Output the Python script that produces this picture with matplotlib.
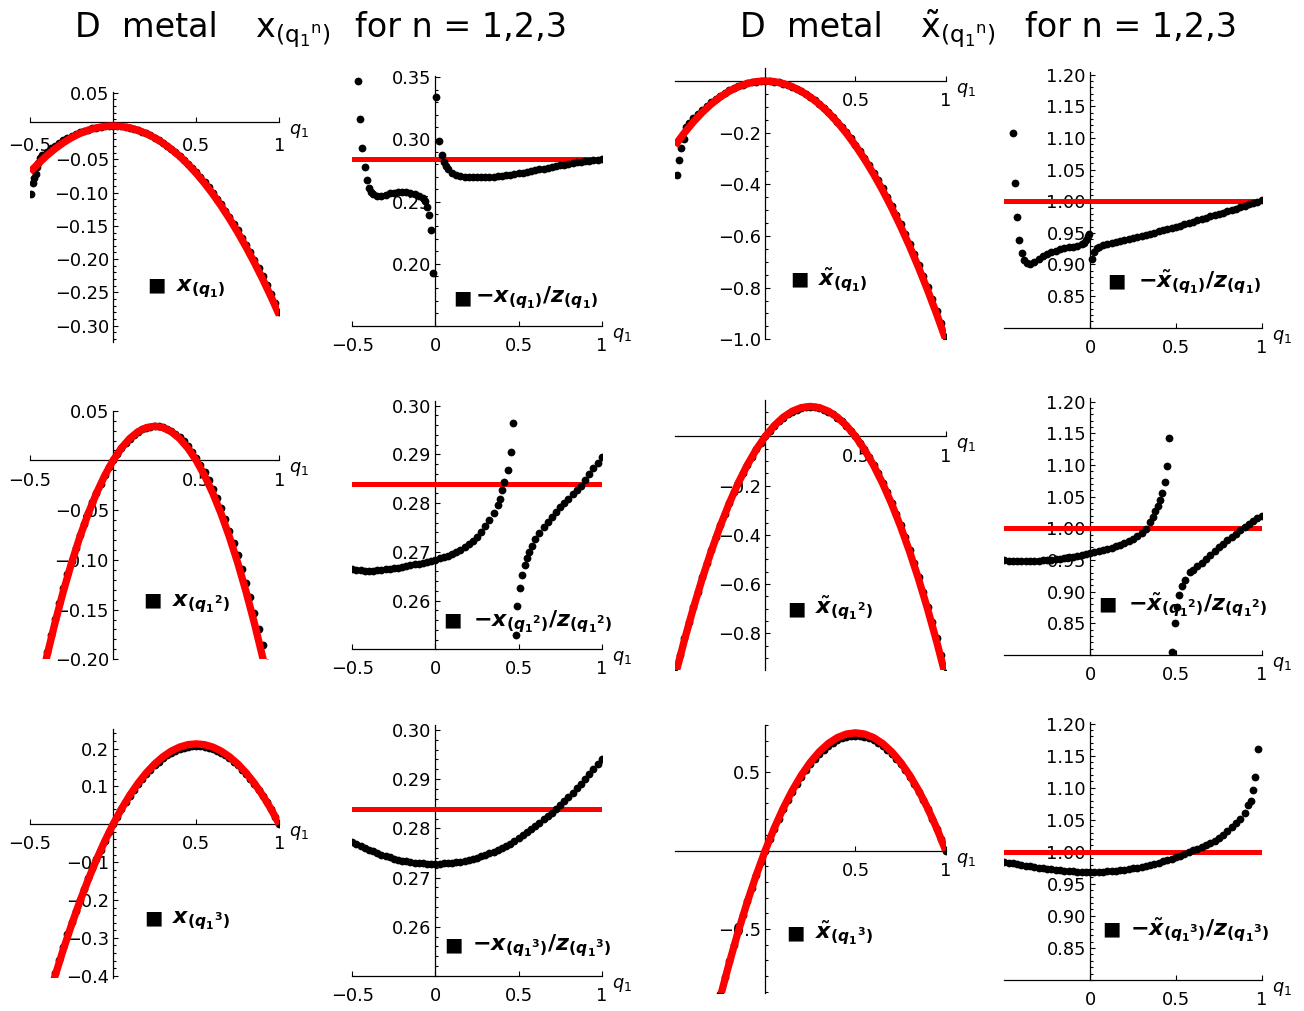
import matplotlib
matplotlib.use('Agg')
import matplotlib.pyplot as plt
from matplotlib.ticker import MultipleLocator
import numpy as np

plt.rcParams['font.family'] = ['DejaVu Sans']
plt.rcParams['mathtext.fontset'] = 'custom'
plt.rcParams['mathtext.rm'] = 'DejaVu Sans'
plt.rcParams['mathtext.it'] = 'DejaVu Sans:italic'
plt.rcParams['mathtext.bf'] = 'DejaVu Sans:bold'
plt.rcParams['mathtext.bfit'] = 'DejaVu Sans:italic:bold'

# ---------------- data ----------------
Q25 = [-0.5, -0.475, -0.45, -0.425, -0.4, -0.375, -0.35, -0.325, -0.3, -0.275,
       -0.25, -0.225, -0.2, -0.175, -0.15, -0.125, -0.1, -0.075, -0.05, -0.025,
       0.0, 0.025, 0.05, 0.075, 0.1, 0.125, 0.15, 0.175, 0.2, 0.225,
       0.25, 0.275, 0.3, 0.325, 0.35, 0.375, 0.4, 0.425, 0.45, 0.475,
       0.5, 0.525, 0.55, 0.575, 0.6, 0.625, 0.65, 0.675, 0.7, 0.725,
       0.75, 0.775, 0.8, 0.825, 0.85, 0.875, 0.9, 0.925, 0.95, 0.975, 1.0]
Q05 = [-0.5, -0.45, -0.4, -0.35, -0.3, -0.25, -0.2, -0.15, -0.1, -0.05,
       0.0, 0.05, 0.1, 0.15, 0.2, 0.25, 0.3, 0.35, 0.4, 0.45,
       0.5, 0.55, 0.6, 0.65, 0.7, 0.75, 0.8, 0.85, 0.9, 0.95, 1.0]

# row 1, x(q1)
x1_q = [-0.492, -0.482, -0.474, -0.466, -0.458, -0.45, -0.44] + Q25[3:]
x1_y = [-0.102, -0.085, -0.078, -0.072, -0.062, -0.055, -0.048,
        -0.0435, -0.0385, -0.0338, -0.0294, -0.0253, -0.0216, -0.0181, -0.015, -0.0121,
        -0.0096, -0.0073, -0.0054, -0.0037, -0.0024, -0.0013, -0.0006, -0.0001,
        0.0,
        -0.0002, -0.0007, -0.0016, -0.0028, -0.0044, -0.0063, -0.0085, -0.0112, -0.0141, -0.0174,
        -0.0211, -0.0251, -0.0295, -0.0342, -0.0392, -0.0446, -0.0504, -0.0565, -0.0629, -0.0698,
        -0.0769, -0.0844, -0.0922, -0.1004, -0.109, -0.1179, -0.1271, -0.1367, -0.1466, -0.1569,
        -0.1676, -0.1786, -0.1899, -0.2016, -0.2136, -0.226, -0.2387, -0.2518, -0.2652, -0.279]
x1_red = [-0.069, -0.0565, -0.0447, -0.0343, -0.0252, -0.0175, -0.0112, -0.0063, -0.0028, -0.0007,
          0.0, -0.0007, -0.0028, -0.0064, -0.0114, -0.0178, -0.0256, -0.0348, -0.0454, -0.0575,
          -0.071, -0.0859, -0.1022, -0.12, -0.1392, -0.1598, -0.1818, -0.2052, -0.23, -0.2563, -0.284]

# row 1, -x(q1)/z(q1)
r1_q = [-0.466, -0.452, -0.440, -0.426, -0.412, -0.400,
        -0.39, -0.375, -0.35, -0.325, -0.3, -0.275, -0.25, -0.225, -0.2, -0.175, -0.15, -0.125,
        -0.1, -0.075, -0.062, -0.05, -0.038, -0.026, -0.012,
        0.006, 0.022, 0.038, 0.05, 0.062] + Q25[23:]
r1_y = [0.3473, 0.3161, 0.2933, 0.2776, 0.2674, 0.2607,
        0.2580, 0.2558, 0.2545, 0.2548, 0.2556, 0.2565, 0.2572, 0.2576, 0.2576, 0.2573, 0.2567, 0.2558,
        0.2545, 0.2527, 0.2505, 0.2459, 0.2391, 0.2271, 0.1922,
        0.3339, 0.2987, 0.2874, 0.2820, 0.2785,
        0.2758, 0.2730, 0.2715, 0.2706, 0.2700, 0.2697, 0.2695, 0.2694, 0.2694, 0.2695,
        0.2697, 0.2700, 0.2703, 0.2707, 0.2711, 0.2716, 0.2721, 0.2727, 0.2733, 0.2739,
        0.2745, 0.2751, 0.2758, 0.2764, 0.2771, 0.2777, 0.2784, 0.2790, 0.2797, 0.2803,
        0.2809, 0.2815, 0.2820, 0.2825, 0.2830, 0.2834, 0.2837, 0.2840]
RATIO_X_LEVEL = 0.284

# row 1, x~(q1)
t1_q = [-0.491, -0.480, -0.467, -0.451, -0.438] + Q25[3:]
t1_y = [-0.365, -0.306, -0.260, -0.223, -0.180,
        -0.164, -0.145, -0.127, -0.111, -0.0955, -0.0815, -0.0685, -0.057, -0.046, -0.0365,
        -0.028, -0.0207, -0.0145, -0.0094, -0.0054, -0.0024, -0.0006,
        0.0,
        -0.0006, -0.0025, -0.0055, -0.0099, -0.0154, -0.0222, -0.0302, -0.0394, -0.0499, -0.0616,
        -0.0745, -0.0887, -0.104, -0.1207, -0.1385, -0.1576, -0.1779, -0.1995, -0.2222, -0.2463,
        -0.2715, -0.298, -0.3257, -0.3546, -0.3848, -0.4162, -0.4488, -0.4827, -0.5177, -0.5541,
        -0.5916, -0.6304, -0.6704, -0.7117, -0.7541, -0.7979, -0.8428, -0.889, -0.9364, -0.992]
t1_red = [-0.25, -0.2025, -0.16, -0.1225, -0.09, -0.0625, -0.04, -0.0225, -0.01, -0.0025,
          0.0, -0.0025, -0.01, -0.0225, -0.04, -0.0625, -0.09, -0.1225, -0.16, -0.2025,
          -0.25, -0.3025, -0.36, -0.4225, -0.49, -0.5625, -0.64, -0.7225, -0.81, -0.9025, -1.0]

# row 1, -x~(q1)/z(q1)
s1_q = [-0.452, -0.437, -0.425, -0.412, -0.398, -0.384,
        -0.37, -0.35, -0.325, -0.3, -0.275, -0.25, -0.225, -0.2, -0.175, -0.15, -0.125, -0.1,
        -0.075, -0.05, -0.035, -0.023, -0.012, -0.004,
        0.012, 0.023, 0.039] + Q25[22:]
s1_y = [1.1086, 1.029, 0.9754, 0.9395, 0.9185, 0.907,
        0.902, 0.9015, 0.9045, 0.909, 0.913, 0.9168, 0.9195, 0.9218, 0.9238, 0.9255, 0.927, 0.9284,
        0.9298, 0.9318, 0.9345, 0.9386, 0.9445, 0.949,
        0.9085, 0.920, 0.9254,
        0.928, 0.9305, 0.9328, 0.9343, 0.9357, 0.937, 0.9385, 0.9401, 0.9421, 0.944,
        0.9458, 0.9474, 0.949, 0.9505, 0.9522, 0.9539, 0.9557, 0.9576, 0.9595, 0.9615,
        0.9635, 0.9655, 0.9676, 0.9697, 0.9718, 0.9739, 0.976, 0.978, 0.9801, 0.9822,
        0.9843, 0.9864, 0.9884, 0.9905, 0.9927, 0.995, 0.9972, 0.9995, 1.0017]
RATIO_T_LEVEL = 1.0

# row 2, x(q1^2)
x2_q = Q25[2:59]
x2_y = [-0.229, -0.2106, -0.1929, -0.1759, -0.1595, -0.1438, -0.1288, -0.1144, -0.1007, -0.0877,
        -0.0753, -0.0635, -0.0525, -0.0421, -0.0323, -0.0233, -0.0148, -0.0071,
        0.0,
        0.0064, 0.0122, 0.0173, 0.0217, 0.0255, 0.0286, 0.0311, 0.0329, 0.034, 0.0345,
        0.0343, 0.0334, 0.0319, 0.0297, 0.0268, 0.0233, 0.0191, 0.0143, 0.0088, 0.0027,
        -0.0042, -0.0117, -0.0198, -0.0286, -0.0381, -0.0482, -0.059, -0.0705, -0.0826, -0.0954,
        -0.1089, -0.123, -0.1377, -0.1532, -0.1693, -0.186, -0.2035, -0.2215]
x2_red_q = Q05[1:30]
x2_red = [-0.2351, -0.198, -0.1636, -0.132, -0.1031, -0.077, -0.0536, -0.033, -0.0151,
          0.0, 0.0124, 0.022, 0.0289, 0.033, 0.0344, 0.033, 0.0289, 0.022, 0.0124,
          0.0, -0.0151, -0.033, -0.0536, -0.077, -0.1031, -0.132, -0.1636, -0.198, -0.2351]

# row 2, -x(q1^2)/z(q1^2)
r2_q = Q25[0:36] + [0.3876, 0.4016, 0.4137, 0.4337, 0.4518, 0.4639,
                    0.482, 0.492, 0.508, 0.522, 0.538, 0.548, 0.564, 0.578] + Q25[44:]
r2_y = [0.2664, 0.2663, 0.2662, 0.2661, 0.2661, 0.2661, 0.2662, 0.2663, 0.2664, 0.2665,
        0.2666, 0.2667, 0.2669, 0.267, 0.2672, 0.2674, 0.2676, 0.2678, 0.268, 0.2682,
        0.2684, 0.2687, 0.2689, 0.2692, 0.2695, 0.2699, 0.2704, 0.2709, 0.2715, 0.2723,
        0.2731, 0.2741, 0.2752, 0.2765, 0.278, 0.2797,
        0.2809, 0.2826, 0.2844, 0.2868, 0.2904, 0.2964,
        0.2529, 0.2589, 0.2626, 0.2652, 0.2673, 0.2688, 0.27, 0.2711,
        0.2726, 0.2739, 0.275, 0.2761, 0.2771, 0.2781, 0.2791, 0.28, 0.2809, 0.2818,
        0.2827, 0.2836, 0.2848, 0.286, 0.2872, 0.2883, 0.2894]

# row 2, x~(q1^2)
t2_q = Q25
t2_y = [-0.9602, -0.8894, -0.821, -0.755, -0.6914, -0.6302, -0.5714, -0.515, -0.461, -0.4094,
        -0.3602, -0.3134, -0.269, -0.227, -0.1874, -0.1502, -0.1154, -0.083, -0.053, -0.0254,
        -0.0002,
        0.0226, 0.043, 0.061, 0.0766, 0.0898, 0.1006, 0.109, 0.115, 0.1186, 0.1198,
        0.1186, 0.115, 0.109, 0.1006, 0.0898, 0.0766, 0.061, 0.043, 0.0226, -0.0002,
        -0.0254, -0.053, -0.083, -0.1154, -0.1502, -0.1874, -0.227, -0.269, -0.3134, -0.3602,
        -0.4094, -0.461, -0.515, -0.5714, -0.6302, -0.6914, -0.755, -0.821, -0.8894, -0.9602]
t2_red = [-0.975, -0.8336, -0.702, -0.5801, -0.468, -0.3656, -0.273, -0.1901, -0.117, -0.0536,
          0.0, 0.0439, 0.078, 0.1024, 0.117, 0.1219, 0.117, 0.1024, 0.078, 0.0439,
          0.0, -0.0536, -0.117, -0.1901, -0.273, -0.3656, -0.468, -0.5801, -0.702, -0.8336, -0.975]

# row 2, -x~(q1^2)/z(q1^2)
s2_q = Q25[0:34] + [0.35, 0.365, 0.38, 0.395, 0.408, 0.42, 0.435, 0.448, 0.46,
                    0.476, 0.495, 0.505, 0.518, 0.534, 0.553, 0.583] + Q25[44:]
s2_y = [0.9495, 0.9491, 0.9488, 0.9486, 0.9485, 0.9485, 0.9486, 0.9488, 0.9491, 0.9495,
        0.95, 0.9507, 0.9515, 0.9524, 0.9534, 0.9544, 0.9555, 0.9567, 0.9581, 0.9596,
        0.9611, 0.9626, 0.9642, 0.9659, 0.9677, 0.9697, 0.9718, 0.9742, 0.9768, 0.9798,
        0.9833, 0.9876, 0.993, 0.9993,
        1.0095, 1.018, 1.027, 1.036, 1.045, 1.056, 1.073, 1.098, 1.142,
        0.8053, 0.8502, 0.8766, 0.8951, 0.9083, 0.9189, 0.931,
        0.935, 0.94, 0.9455, 0.9515, 0.9575, 0.9638, 0.97, 0.9757, 0.9812, 0.9866,
        0.9919, 0.9969, 1.0016, 1.0064, 1.0111, 1.0157, 1.0203]

# row 3, x(q1^3)
x3_q = Q25[2:]
x3_y = [-0.5416, -0.5027, -0.4648, -0.428, -0.3922, -0.3574, -0.3237, -0.291, -0.2594, -0.2288,
        -0.1992, -0.1707, -0.1432, -0.1167, -0.0913, -0.0669, -0.0436, -0.0213,
        0.0,
        0.0202, 0.0394, 0.0576, 0.0747, 0.0908, 0.1058, 0.1198, 0.1328, 0.1447, 0.1556,
        0.1655, 0.1743, 0.1821, 0.1888, 0.1945, 0.1992, 0.2028, 0.2054, 0.207, 0.2075,
        0.207, 0.2054, 0.2028, 0.1992, 0.1945, 0.1888, 0.1821, 0.1743, 0.1655, 0.1556,
        0.1447, 0.1328, 0.1198, 0.1058, 0.0908, 0.0747, 0.0576, 0.0394, 0.0202, 0.0]
x3_red_q = Q05[1:]
x3_red = [-0.5546, -0.476, -0.4016, -0.3315, -0.2656, -0.204, -0.1466, -0.0935, -0.0446,
          0.0, 0.0404, 0.0765, 0.1084, 0.136, 0.1594, 0.1785, 0.1934, 0.204, 0.2104, 0.2125,
          0.2104, 0.204, 0.1934, 0.1785, 0.1594, 0.136, 0.1084, 0.0765, 0.0404, 0.0]

# row 3, -x(q1^3)/z(q1^3)
r3_q = Q25
r3_y = [0.2772, 0.2768, 0.2764, 0.276, 0.2756, 0.2753, 0.2749, 0.2746, 0.2743, 0.2741,
        0.2738, 0.2736, 0.2734, 0.2733, 0.2731, 0.273, 0.2729, 0.2729, 0.2728, 0.2728,
        0.2728,
        0.2728, 0.2729, 0.2729, 0.273, 0.2731, 0.2732, 0.2734, 0.2736, 0.2738, 0.274,
        0.2743, 0.2745, 0.2749, 0.2752, 0.2756, 0.276, 0.2765, 0.2769, 0.2775, 0.278,
        0.2786, 0.2792, 0.2798, 0.2804, 0.2811, 0.2818, 0.2825, 0.2832, 0.2839, 0.2847,
        0.2855, 0.2864, 0.2872, 0.2881, 0.289, 0.29, 0.291, 0.292, 0.293, 0.294]

# row 3, x~(q1^3)
t3_q = Q25[8:]
t3_y = [-1.1427, -1.0273, -0.9156, -0.8075, -0.7032, -0.6024, -0.5054, -0.412, -0.3223, -0.2362,
        -0.1538, -0.075,
        0.0,
        0.0715, 0.1392, 0.2033, 0.2637, 0.3205, 0.3736, 0.4231, 0.4688, 0.511, 0.5494,
        0.5842, 0.6153, 0.6428, 0.6666, 0.6868, 0.7032, 0.7161, 0.7252, 0.7307, 0.7325,
        0.7307, 0.7252, 0.7161, 0.7032, 0.6868, 0.6666, 0.6428, 0.6153, 0.5842, 0.5494,
        0.511, 0.4688, 0.4231, 0.3736, 0.3205, 0.2637, 0.2033, 0.1392, 0.0715, 0.0]
t3_red_q = Q05[4:]
t3_red = [-1.17, -0.9375, -0.72, -0.5175, -0.33, -0.1575,
          0.0, 0.1425, 0.27, 0.3825, 0.48, 0.5625, 0.63, 0.6825, 0.72, 0.7425, 0.75,
          0.7425, 0.72, 0.6825, 0.63, 0.5625, 0.48, 0.3825, 0.27, 0.1425, 0.0]

# row 3, -x~(q1^3)/z(q1^3)
s3_q = Q25[0:57] + [0.92, 0.935, 0.95, 0.962, 0.977]
s3_y = [0.9843, 0.983, 0.9818, 0.9806, 0.9794, 0.9783, 0.9772, 0.9762, 0.9752, 0.9743,
        0.9734, 0.9726, 0.9718, 0.9711, 0.9705, 0.9699, 0.9694, 0.969, 0.9688, 0.9687,
        0.9686,
        0.9687, 0.9688, 0.9691, 0.9695, 0.97, 0.9706, 0.9714, 0.9722, 0.9731, 0.974,
        0.9752, 0.9765, 0.9779, 0.9795, 0.9812, 0.983, 0.985, 0.987, 0.9893, 0.9917,
        0.9942, 0.9968, 0.9995, 1.0022, 1.0049, 1.0078, 1.0108, 1.014, 1.0175, 1.0215,
        1.0265, 1.0325, 1.0385, 1.0445, 1.0505, 1.0605,
        1.0726, 1.080, 1.096, 1.117, 1.161]

# tick values and labels
M = '\u2212'
XT_C1, XL_C1 = [-0.5, 0.5, 1.0], [M + '0.5', '0.5', '1']
XT_C2, XL_C2 = [-0.5, 0.0, 0.5, 1.0], [M + '0.5', '0', '0.5', '1']
XT_C3, XL_C3 = [0.5, 1.0], ['0.5', '1']
XT_C4, XL_C4 = [0.0, 0.5, 1.0], ['0', '0.5', '1']
YT_R1C1 = [0.05, -0.05, -0.10, -0.15, -0.20, -0.25, -0.30]
YT_R1C2 = [0.20, 0.25, 0.30, 0.35]
YT_R1C3 = [-0.2, -0.4, -0.6, -0.8, -1.0]
YT_C4 = [0.85, 0.90, 0.95, 1.00, 1.05, 1.10, 1.15, 1.20]
YT_R2C1 = [0.05, -0.05, -0.10, -0.15, -0.20]
YT_C2 = [0.26, 0.27, 0.28, 0.29, 0.30]
YT_R2C3 = [-0.2, -0.4, -0.6, -0.8]
YT_R3C1 = [0.2, 0.1, -0.1, -0.2, -0.3, -0.4]
YT_R3C3 = [0.5, -0.5]


def fmt(vals, nd):
    return [('{:.%df}' % nd).format(v).replace('-', M) for v in vals]


# ---------------- legend / title text ----------------
def sub(n):
    q = r'\mathbfit{q}_{\mathbf{1}}'
    if n > 1:
        q = '{' + q + '}^{\\mathbf{%d}}' % n
    return r'\mathbf{(}' + q + r'\mathbf{)}'


XB = r'\mathbfit{x}'
XTL = r'\tilde{\mathbfit{x}}'
ZB = r'\mathbfit{z}'


def lab_x(n, tilde=False):
    return '$' + (XTL if tilde else XB) + '_{' + sub(n) + '}$'


def lab_r(n, tilde=False):
    return ('$\\mathbf{-}' + (XTL if tilde else XB) + '_{' + sub(n) + '}'
            + r'\mathbf{/}' + ZB + '_{' + sub(n) + '}$')


# ---------------- layout ----------------
W, H = 1304, 1011
fig = plt.figure(figsize=(W / 100, H / 100), dpi=100)
fig.patch.set_facecolor('white')

COLS = [(30.0, 279.3), (352.3, 601.7), (675.0, 945.7), (1004.3, 1261.7)]

panels = [
    dict(col=0, top=92.3, bot=341.7, ylim=(-0.324, 0.0506), sy=0.0065, q=x1_q, y=x1_y,
         rq=Q05, ry=x1_red, yt=YT_R1C1, nd=2, ym=0.01, xt=XT_C1, xl=XL_C1, xpad=11,
         lab=lab_x(1), sq=(156, 285), tx=(176, 291)),
    dict(col=1, top=75.7, bot=325.7, ylim=(0.15, 0.3513), sy=0.15, q=r1_q, y=r1_y,
         level=RATIO_X_LEVEL, yt=YT_R1C2, nd=2, ym=0.01, xt=XT_C2, xl=XL_C2,
         lab=lab_r(1), sq=(462.5, 297.5), tx=(475, 302.5)),
    dict(col=2, top=68.3, bot=339.3, ylim=(-1.0, 0.049), sy=0.0, q=t1_q, y=t1_y,
         rq=Q05, ry=t1_red, yt=YT_R1C3, nd=1, ym=0.05, xt=XT_C3, xl=XL_C3,
         lab=lab_x(1, True), sq=(799, 279), tx=(818, 285)),
    dict(col=3, top=72.3, bot=327.7, ylim=(0.80, 1.204), sy=0.80, q=s1_q, y=s1_y,
         level=RATIO_T_LEVEL, yt=YT_C4, nd=2, ym=0.01, xt=XT_C4, xl=XL_C4,
         lab=lab_r(1, True), sq=(1116.7, 281.3), tx=(1138, 287.7)),
    dict(col=0, top=410.7, bot=659.3, ylim=(-0.20, 0.05), sy=0.0, q=x2_q, y=x2_y,
         rq=x2_red_q, ry=x2_red, yt=YT_R2C1, nd=2, ym=0.01, xt=XT_C1, xl=XL_C1,
         lab=lab_x(2), sq=(152, 599.5), tx=(172, 606)),
    dict(col=1, top=400.7, bot=649.3, ylim=(0.25, 0.301), sy=0.25, q=r2_q, y=r2_y,
         level=RATIO_X_LEVEL, yt=YT_C2, nd=2, ym=0.002, xt=XT_C2, xl=XL_C2,
         lab=lab_r(2), sq=(452.5, 619.7), tx=(473, 626)),
    dict(col=2, top=400.0, bot=670.0, ylim=(-0.949, 0.148), sy=0.0, q=t2_q, y=t2_y,
         rq=Q05, ry=t2_red, yt=YT_R2C3, nd=1, ym=0.05, xt=XT_C3, xl=XL_C3,
         lab=lab_x(2, True), sq=(796, 608.8), tx=(815, 613.3)),
    dict(col=3, top=398.3, bot=655.0, ylim=(0.80, 1.2055), sy=0.80, q=s2_q, y=s2_y,
         level=RATIO_T_LEVEL, yt=YT_C4, nd=2, ym=0.01, xt=XT_C4, xl=XL_C4,
         lab=lab_r(2, True), sq=(1107.5, 604), tx=(1128, 610)),
    dict(col=0, top=729.3, bot=978.3, ylim=(-0.407, 0.251), sy=0.0, q=x3_q, y=x3_y,
         rq=x3_red_q, ry=x3_red, yt=YT_R3C1, nd=1, ym=0.02, xt=XT_C1, xl=XL_C1,
         lab=lab_x(3), sq=(153, 918), tx=(172, 923.3)),
    dict(col=1, top=725.0, bot=976.0, ylim=(0.25, 0.301), sy=0.25, q=r3_q, y=r3_y,
         level=RATIO_X_LEVEL, yt=YT_C2, nd=2, ym=0.002, xt=XT_C2, xl=XL_C2,
         lab=lab_r(3), sq=(453, 945), tx=(472.5, 950.7)),
    dict(col=2, top=725.0, bot=993.3, ylim=(-0.91, 0.80), sy=0.0, q=t3_q, y=t3_y,
         rq=t3_red_q, ry=t3_red, yt=YT_R3C3, nd=1, ym=0.1, xt=XT_C3, xl=XL_C3,
         lab=lab_x(3, True), sq=(795.5, 933.3), tx=(815, 938.3)),
    dict(col=3, top=722.3, bot=980.0, ylim=(0.80, 1.202), sy=0.80, q=s3_q, y=s3_y,
         level=RATIO_T_LEVEL, yt=YT_C4, nd=2, ym=0.01, xt=XT_C4, xl=XL_C4,
         lab=lab_r(3, True), sq=(1111.7, 929), tx=(1130.5, 935)),
]

RED = '#ff0000'
DOT = 5.6

for p in panels:
    x0, x1 = COLS[p['col']]
    ax = fig.add_axes([x0 / W, 1 - p['bot'] / H, (x1 - x0) / W, (p['bot'] - p['top']) / H])
    ax.patch.set_visible(False)
    for s in ('top', 'right'):
        ax.spines[s].set_visible(False)
    ax.spines['left'].set_position(('data', 0.0))
    ax.spines['bottom'].set_position(('data', p['sy']))
    for s in ('left', 'bottom'):
        ax.spines[s].set_linewidth(0.9)
        ax.spines[s].set_zorder(1)
    ax.set_xticks(p['xt'], p['xl'])
    ax.set_yticks(p['yt'], fmt(p['yt'], p['nd']))
    ax.yaxis.set_minor_locator(MultipleLocator(p['ym']))
    ax.set_xlim(-0.5, 1.0)
    ax.set_ylim(*p['ylim'])
    ax.tick_params(which='both', direction='in', width=0.8, labelsize=12.8, colors='black')
    ax.tick_params(which='major', length=3.5)
    ax.tick_params(which='minor', length=2)
    ax.tick_params(axis='x', which='both', pad=p.get('xpad', 8))
    ax.tick_params(axis='y', which='both', pad=3)

    if 'level' in p:
        ax.axhline(p['level'], color=RED, lw=3.6, zorder=2)
        ax.plot(np.array(p['q']), np.array(p['y']), 'o', color='black', ms=DOT, mew=0,
                linestyle='none', zorder=3)
    else:
        ax.plot(np.array(p['q']), np.array(p['y']), 'o', color='black', ms=DOT, mew=0,
                linestyle='none', zorder=2)
        ax.plot(np.array(p['rq']), np.array(p['ry']), color=RED, lw=5.3,
                solid_capstyle='butt', zorder=3)

    ax.annotate(r'$q_1$', xy=(1.0, p['sy']), xycoords=('axes fraction', 'data'),
                xytext=(10, -9), textcoords='offset pixels', ha='left', va='center',
                fontsize=12.8)

    sx, sy = p['sq']
    fig.text(sx / W, 1 - sy / H, '\u25a0', ha='center', va='center', fontsize=14)
    tx, ty = p['tx']
    fig.text(tx / W, 1 - ty / H, p['lab'], ha='left', va='baseline', fontsize=16)

# titles
TITLE_Y = 1 - 37 / H
fig.text(75 / W, TITLE_Y, 'D  metal', fontsize=24, va='baseline')
fig.text(255 / W, TITLE_Y, r'$\mathrm{x}_{({\mathrm{q}_{1}}^{\mathrm{n}})}$', fontsize=24, va='baseline')
fig.text(355 / W, TITLE_Y, 'for n = 1,2,3', fontsize=24, va='baseline')
fig.text(740 / W, TITLE_Y, 'D  metal', fontsize=24, va='baseline')
fig.text(920 / W, TITLE_Y, r'$\tilde{\mathrm{x}}_{({\mathrm{q}_{1}}^{\mathrm{n}})}$', fontsize=24, va='baseline')
fig.text(1025 / W, TITLE_Y, 'for n = 1,2,3', fontsize=24, va='baseline')

fig.savefig('out.png', dpi=100, facecolor='white')
